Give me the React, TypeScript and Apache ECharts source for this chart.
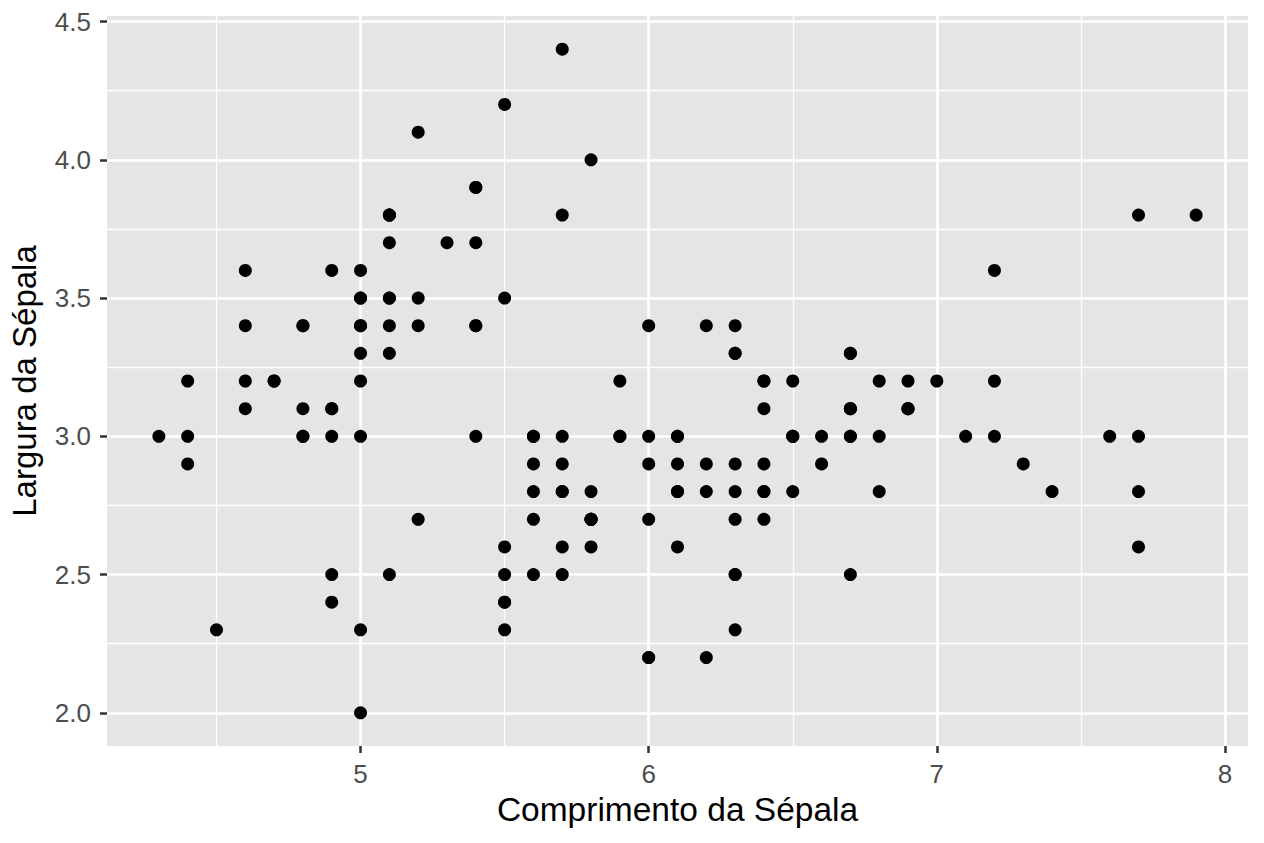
import React, { useEffect, useRef } from "react";
import * as echarts from "echarts";

// iris: Sepal.Length and Sepal.Width
const sepalLength = [
  5.1, 4.9, 4.7, 4.6, 5.0, 5.4, 4.6, 5.0, 4.4, 4.9, 5.4, 4.8, 4.8, 4.3, 5.8, 5.7, 5.4, 5.1, 5.7, 5.1,
  5.4, 5.1, 4.6, 5.1, 4.8, 5.0, 5.0, 5.2, 5.2, 4.7, 4.8, 5.4, 5.2, 5.5, 4.9, 5.0, 5.5, 4.9, 4.4, 5.1,
  5.0, 4.5, 4.4, 5.0, 5.1, 4.8, 5.1, 4.6, 5.3, 5.0,
  7.0, 6.4, 6.9, 5.5, 6.5, 5.7, 6.3, 4.9, 6.6, 5.2, 5.0, 5.9, 6.0, 6.1, 5.6, 6.7, 5.6, 5.8, 6.2, 5.6,
  5.9, 6.1, 6.3, 6.1, 6.4, 6.6, 6.8, 6.7, 6.0, 5.7, 5.5, 5.5, 5.8, 6.0, 5.4, 6.0, 6.7, 6.3, 5.6, 5.5,
  5.5, 6.1, 5.8, 5.0, 5.6, 5.7, 5.7, 6.2, 5.1, 5.7,
  6.3, 5.8, 7.1, 6.3, 6.5, 7.6, 4.9, 7.3, 6.7, 7.2, 6.5, 6.4, 6.8, 5.7, 5.8, 6.4, 6.5, 7.7, 7.7, 6.0,
  6.9, 5.6, 7.7, 6.3, 6.7, 7.2, 6.2, 6.1, 6.4, 7.2, 7.4, 7.9, 6.4, 6.3, 6.1, 7.7, 6.3, 6.4, 6.0, 6.9,
  6.7, 6.9, 5.8, 6.8, 6.7, 6.7, 6.3, 6.5, 6.2, 5.9,
];
const sepalWidth = [
  3.5, 3.0, 3.2, 3.1, 3.6, 3.9, 3.4, 3.4, 2.9, 3.1, 3.7, 3.4, 3.0, 3.0, 4.0, 4.4, 3.9, 3.5, 3.8, 3.8,
  3.4, 3.7, 3.6, 3.3, 3.4, 3.0, 3.4, 3.5, 3.4, 3.2, 3.1, 3.4, 4.1, 4.2, 3.1, 3.2, 3.5, 3.6, 3.0, 3.4,
  3.5, 2.3, 3.2, 3.5, 3.8, 3.0, 3.8, 3.2, 3.7, 3.3,
  3.2, 3.2, 3.1, 2.3, 2.8, 2.8, 3.3, 2.4, 2.9, 2.7, 2.0, 3.0, 2.2, 2.9, 2.9, 3.1, 3.0, 2.7, 2.2, 2.5,
  3.2, 2.8, 2.5, 2.8, 2.9, 3.0, 2.8, 3.0, 2.9, 2.6, 2.4, 2.4, 2.7, 2.7, 3.0, 3.4, 3.1, 2.3, 3.0, 2.5,
  2.6, 3.0, 2.6, 2.3, 2.7, 3.0, 2.9, 2.9, 2.5, 2.8,
  3.3, 2.7, 3.0, 2.9, 3.0, 3.0, 2.5, 2.9, 2.5, 3.6, 3.2, 2.7, 3.0, 2.5, 2.8, 3.2, 3.0, 3.8, 2.6, 2.2,
  3.2, 2.8, 2.8, 2.7, 3.3, 3.2, 2.8, 3.0, 2.8, 3.0, 2.8, 3.8, 2.8, 2.8, 2.6, 3.0, 3.4, 3.1, 3.0, 3.1,
  3.1, 3.1, 2.7, 3.2, 3.3, 3.0, 2.5, 3.0, 3.4, 3.0,
];

const xMajorTicks = [5, 6, 7, 8];
const xMinorTicks = [4.5, 5.5, 6.5, 7.5];
const yMajorTicks = [2.0, 2.5, 3.0, 3.5, 4.0, 4.5];
const yMinorTicks = [2.25, 2.75, 3.25, 3.75, 4.25];

const xTitle = "Comprimento da Sépala";
const yTitle = "Largura da Sépala";

const X_MIN = 4.12;
const X_MAX = 8.08;
const Y_MIN = 1.88;
const Y_MAX = 4.52;

const FONT = "'Liberation Sans', Arial, Helvetica, sans-serif";

export default function App() {
  const ref = useRef<HTMLDivElement>(null);

  useEffect(() => {
    if (!ref.current) return;
    const chart = echarts.init(ref.current, undefined, { renderer: "svg" });
    const points = sepalLength.map((x, i) => [x, sepalWidth[i]]);

    const majorLine = { show: true, lineStyle: { color: "#FFFFFF", width: 2.7 } };
    const minorLine = { show: true, lineStyle: { color: "#FFFFFF", width: 1.3 } };

    chart.setOption({
      animation: false,
      backgroundColor: "#FFFFFF",
      textStyle: { fontFamily: FONT },
      grid: {
        left: 107,
        right: 16,
        top: 16,
        bottom: 97,
        show: true,
        backgroundColor: "#E5E5E5",
        borderWidth: 0,
      },
      xAxis: [
        {
          type: "value",
          min: X_MIN,
          max: X_MAX,
          position: "bottom",
          name: xTitle,
          nameLocation: "middle",
          nameGap: 46,
          nameTextStyle: { color: "#000000", fontSize: 33.5, fontFamily: FONT },
          axisLine: { show: false },
          axisTick: {
            show: true,
            length: 7,
            customValues: xMajorTicks,
            lineStyle: { color: "#333333", width: 2.5 },
          },
          axisLabel: {
            show: true,
            customValues: xMajorTicks,
            margin: 15,
            color: "#4D4D4D",
            fontSize: 26,
            fontFamily: FONT,
            formatter: (v: number) => String(v),
          },
          splitLine: majorLine,
          z: 2,
        },
        {
          type: "value",
          min: X_MIN,
          max: X_MAX,
          position: "top",
          axisLine: { show: false },
          axisTick: { show: false, customValues: xMinorTicks },
          axisLabel: { show: false, customValues: xMinorTicks },
          splitLine: minorLine,
          z: 1,
        },
      ],
      yAxis: [
        {
          type: "value",
          min: Y_MIN,
          max: Y_MAX,
          position: "left",
          name: yTitle,
          nameLocation: "middle",
          nameGap: 66,
          nameTextStyle: { color: "#000000", fontSize: 33, fontFamily: FONT },
          axisLine: { show: false },
          axisTick: {
            show: true,
            length: 7,
            customValues: yMajorTicks,
            lineStyle: { color: "#333333", width: 2.5 },
          },
          axisLabel: {
            show: true,
            customValues: yMajorTicks,
            margin: 16,
            color: "#4D4D4D",
            fontSize: 26,
            fontFamily: FONT,
            formatter: (v: number) => v.toFixed(1),
          },
          splitLine: majorLine,
          z: 2,
        },
        {
          type: "value",
          min: Y_MIN,
          max: Y_MAX,
          position: "right",
          axisLine: { show: false },
          axisTick: { show: false, customValues: yMinorTicks },
          axisLabel: { show: false, customValues: yMinorTicks },
          splitLine: minorLine,
          z: 1,
        },
      ],
      series: [
        {
          type: "scatter",
          xAxisIndex: 0,
          yAxisIndex: 0,
          data: points,
          symbol: "circle",
          symbolSize: 13,
          itemStyle: { color: "#000000", opacity: 1 },
          z: 5,
        },
      ],
    });

    return () => chart.dispose();
  }, []);

  return (
    <div
      ref={ref}
      style={{ position: "fixed", left: 0, top: 0, width: 1264, height: 843 }}
    />
  );
}
